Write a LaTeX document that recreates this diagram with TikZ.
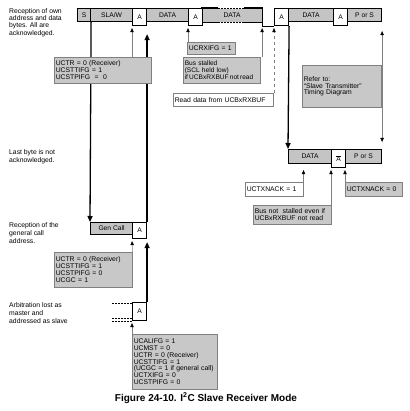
\documentclass[tikz,border=0pt]{standalone}
\usepackage{fontspec}
\setmainfont{Liberation Sans}
\usetikzlibrary{arrows.meta,backgrounds}
\definecolor{bargray}{HTML}{C4C4C4}
\definecolor{boxgray}{HTML}{C8C8C8}
\definecolor{edgegray}{HTML}{808080}
\tikzset{
  seg/.style={draw=black, line width=1.1pt, fill=bargray, inner sep=0pt, anchor=north west,
    minimum height=13pt, font=\fontsize{6.7}{7}\selectfont},
  ackbox/.style={draw=black, line width=1.1pt, fill=white, inner sep=0pt, anchor=north west,
    minimum width=14pt, minimum height=17pt, font=\fontsize{6.7}{7}\selectfont},
  barline/.style={draw=black, line width=1.1pt},
  info/.style={draw=edgegray, line width=0.5pt, fill=boxgray, inner xsep=1.5pt, inner ysep=1pt,
    anchor=north west, align=left, font=\fontsize{6.8}{7.2}\selectfont},
  whiteinfo/.style={info, fill=white},
  sidelabel/.style={anchor=north west, align=left, inner sep=0pt, font=\fontsize{6.8}{8}\selectfont},
  conn/.style={draw=edgegray, line width=0.5pt, -{Triangle[length=4pt,width=3.4pt,color=black]}},
  thickarrow/.style={draw=black, line width=1.3pt, -{Triangle[length=6pt,width=5pt]}},
  dashline/.style={draw=black, line width=0.8pt, dash pattern=on 2pt off 1pt}
}
\begin{document}
\begin{tikzpicture}[x=1pt,y=-1pt]
\useasboundingbox (0,0) rectangle (409,411);

% side labels
\node[sidelabel, font=\fontsize{6.8}{7.4}\selectfont] (L1) at (9,8) {Reception of own\\address and data\\bytes. All are\\acknowledged.};
\node[sidelabel] (L2) at (9,149) {Last byte is not\\acknowledged.};
\node[sidelabel] (L3) at (9,222) {Reception of the\\general call\\address.};
\node[sidelabel] (L4) at (9,302) {Arbitration lost as\\master and\\addressed as slave};

% top bar
\node[seg, minimum width=13pt] (S) at (77,8) {S};
\node[seg, minimum width=42pt] (SLA) at (90,8) {SLA/W};
\node[seg, minimum width=42pt] (D1) at (146,8) {DATA};
\node[seg, minimum width=59pt, draw=none] (D2) at (202,8) {DATA};
\node[seg, minimum width=45pt] (D3) at (288,8) {DATA};
\node[seg, minimum width=34pt] (PS1) at (347,8) {P or S};
\coordinate (J) at ([yshift=-4pt]D2.south east);
\draw[barline] ([xshift=16pt]D2.north west) -- (D2.north west) -- (D2.south west) -- ([xshift=16pt]D2.south west);
\draw[dashline] ([xshift=16pt]D2.north west) -- ([xshift=-18pt]D2.north east);
\draw[dashline] ([xshift=16pt]D2.south west) -- ([xshift=-18pt]D2.south east);
\draw[barline] ([xshift=-18pt]D2.south east) -- (D2.south east);
\node[ackbox] (A1) at (132,8) {A};
\node[ackbox] (A2) at (188,8) {A};
\node[ackbox] (A3) at (274,8) {A};
\node[ackbox] (A4) at (333,8) {A};
\draw[barline] ([xshift=-18pt]D2.north east) -- (D2.north east) -- (J) -- (J -| A3.west);

% lower bar
\node[seg, minimum width=43pt, minimum height=14pt] (D4) at (288,149) {DATA};
\node[seg, minimum width=36pt, minimum height=14pt] (PS2) at (345,149) {P or S};
\node[ackbox, minimum height=18pt] (A5) at (331,149) {$\overline{\mbox{A}}$};

% general call
\node[seg, minimum width=42pt, minimum height=12pt] (GC) at (90,222) {Gen Call};
\node[ackbox, minimum height=16pt] (A6) at (132,222) {A};

% arbitration
\node[ackbox, minimum height=18pt] (A7) at (132,302) {A};
\draw[dashline] ([xshift=-20pt,yshift=-1pt]A7.north west) -- ([yshift=-1pt]A7.north west);
\draw[dashline] ([xshift=-20pt,yshift=3pt]A7.south west) -- ([yshift=3pt]A7.south west);
\draw[dashline] ([xshift=-20pt]A7.south west) -- (A7.south west);

% info boxes
\node[info, text width=94pt, minimum height=26pt] (B1) at (54,57) {UCTR = 0 (Receiver)\\UCSTTIFG = 1\\UCSTPIFG\ \ =\ \ 0};
\node[info, text width=45pt, minimum height=12pt] (B2) at (187,42) {UCRXIFG = 1};
\node[info, text width=74pt, minimum height=26pt, font=\fontsize{6.6}{7.2}\selectfont] (B3) at (183,57) {Bus stalled\\(SCL held low)\\if\,UCBxRXBUF\,not\,read};
\node[whiteinfo, text width=97pt, minimum height=13pt] (B4) at (173,93) {Read data from UCBxRXBUF};
\node[info, text width=76pt, minimum height=42pt, font=\fontsize{6.8}{6.6}\selectfont] (B5) at (302,65) {Refer to:\\``Slave Transmitter''\\Timing Diagram};
\node[whiteinfo, text width=55pt, minimum height=14pt] (B6) at (245,182) {UCTXNACK = 1};
\node[info, text width=75pt, minimum height=19pt] (B7) at (253,205) {Bus not\ \ stalled even if\\UCBxRXBUF not read};
\node[info, text width=54pt, minimum height=14pt] (B8) at (345,182) {UCTXNACK = 0};
\node[info, text width=75pt, minimum height=35pt, font=\fontsize{6.8}{6.9}\selectfont] (B9) at (54,252) {UCTR = 0 (Receiver)\\UCSTTIFG = 1\\UCSTPIFG = 0\\UCGC = 1};
\node[info, text width=82pt, minimum height=55pt, font=\fontsize{6.8}{6.9}\selectfont] (B10) at (132,334) {UCALIFG = 1\\UCMST = 0\\UCTR = 0 (Receiver)\\UCSTTIFG = 1\\(UCGC = 1 if general call)\\UCTXIFG = 0\\UCSTPIFG = 0};

% caption
\node[font=\bfseries\fontsize{10}{12}\selectfont] (cap) at (206,398) {Figure 24-10. I\textsuperscript{2}C Slave Receiver Mode};

% connectors
\coordinate (lowtip) at ([yshift=-2pt]A5.south west);
\begin{pgfonlayer}{background}
\draw[conn] (B1.north -| A1.west) -- ([yshift=-2pt]A1.south west);
\draw[thickarrow] (A6.north east) -- ([yshift=-8pt]A1.south east);
\draw[thickarrow] (S.south east) -- (GC.north west);
\draw[conn] (B2.north -| A2.west) -- ([yshift=-2pt]A2.south west);
\draw[conn] (B3.north -| J) -- ([yshift=-2pt]J);
\draw[conn, dashed] (B4.north -| A3.west) -- ([yshift=-2pt]A3.south west);
\draw[thickarrow] (A3.south east) -- (D4.north west);
\draw[conn, {Triangle[length=4pt,width=3.4pt,color=black]}-{Triangle[length=4pt,width=3.4pt,color=black]}]
  ([yshift=-9pt]PS1.south east) -- ([yshift=7pt]PS2.north east);
\draw[conn] (B6.north east) -- (B6.north east |- lowtip);
\draw[conn] (B7.north -| A5.west) -- (lowtip);
\draw[conn] (B8.north west) -- (B8.north west |- lowtip);
\draw[conn] (B9.north east) -- ([yshift=-2pt]A6.south west);
\draw[thickarrow] (A7.north east) -- ([yshift=-3pt]A6.south east);
\draw[conn] (B10.north west) -- ([yshift=-2pt]A7.south west);
\end{pgfonlayer}
\end{tikzpicture}
\end{document}
